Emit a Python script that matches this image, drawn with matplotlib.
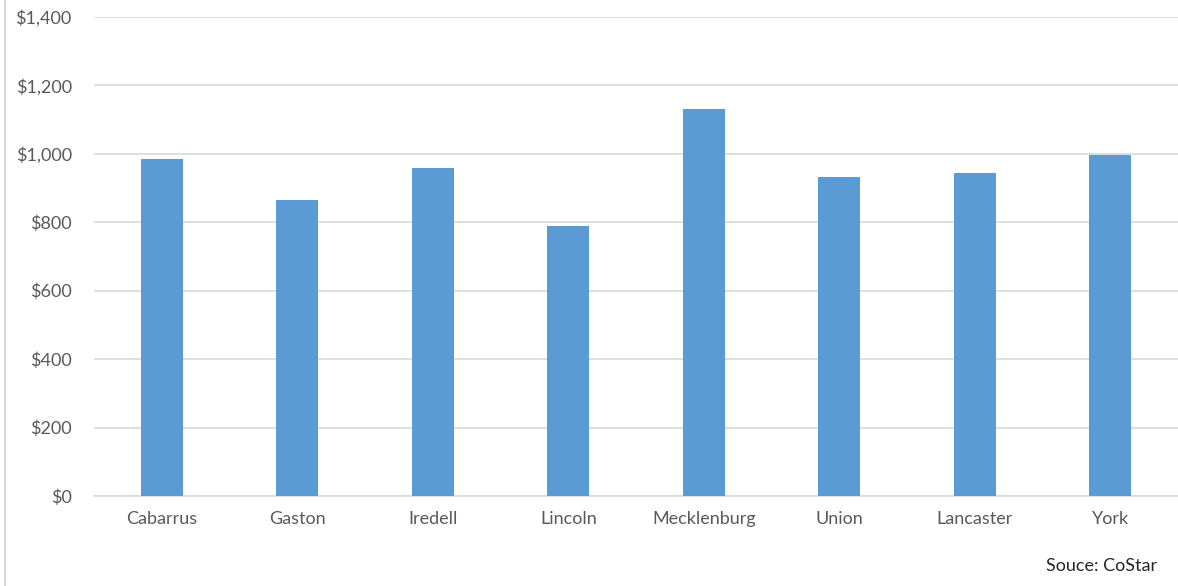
import matplotlib
matplotlib.use("Agg")
import matplotlib.pyplot as plt
from matplotlib.lines import Line2D
from matplotlib.ticker import FuncFormatter

counties = ["Cabarrus", "Gaston", "Iredell", "Lincoln", "Mecklenburg", "Union", "Lancaster", "York"]
rents = [985, 866, 959, 788, 1131, 933, 944, 998]
yticks = [0, 200, 400, 600, 800, 1000, 1200, 1400]
source_note = "Souce: CoStar"

plt.rcParams['font.family'] = ['Lato', 'DejaVu Sans']

W, H = 1178, 586
fig = plt.figure(figsize=(W / 100, H / 100), dpi=100)
ax = fig.add_axes([94 / W, 1 - 496 / H, (1178 - 94) / W, (496 - 17) / H])

x = list(range(len(counties)))
ax.bar(x, rents, width=0.31, color="#5b9bd5", zorder=3)
ax.set_xlim(-0.5, len(counties) - 0.5)
ax.set_ylim(0, 1400)
ax.set_yticks(yticks)
ax.yaxis.set_major_formatter(FuncFormatter(lambda v, p: f"${v:,.0f}"))
ax.set_xticks(x)
ax.set_xticklabels(counties)
ax.grid(axis="y", color="#d9d9d9", linewidth=1.2, zorder=0)
for s in ["top", "right", "left"]:
    ax.spines[s].set_visible(False)
ax.spines["bottom"].set_color("#d9d9d9")
ax.spines["bottom"].set_linewidth(1.2)
ax.tick_params(axis="both", length=0, labelsize=13, colors="#595959")
ax.tick_params(axis="y", pad=16)
ax.tick_params(axis="x", pad=11)

fig.add_artist(Line2D([5 / W, 5 / W], [0, 1], transform=fig.transFigure, color="#d9d9d9", linewidth=1.5))
fig.text(1157 / W, 1 - 566 / H, source_note, ha="right", va="center", fontsize=13, color="#262626")

fig.savefig("out.png", dpi=100)
